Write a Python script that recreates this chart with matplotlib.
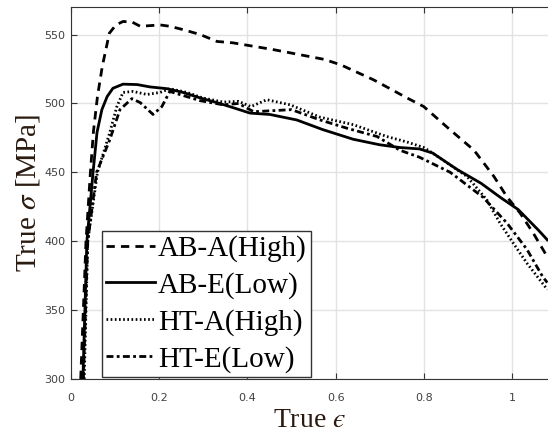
import matplotlib
matplotlib.use("Agg")
import matplotlib.pyplot as plt

plt.rcParams['font.family'] = ['Liberation Serif', 'DejaVu Serif']
plt.rcParams['mathtext.fontset'] = 'stix'

# datos (deformacion verdadera, tension verdadera MPa)
ab_a_x = [0.022, 0.034, 0.044, 0.051, 0.060, 0.071, 0.087, 0.102, 0.118, 0.139,
          0.157, 0.180, 0.202, 0.224, 0.254, 0.293, 0.331, 0.367, 0.46, 0.574,
          0.612, 0.687, 0.762, 0.80, 0.852, 0.914, 0.959, 0.989, 1.018, 1.048, 1.08]
ab_a_y = [300, 400, 450, 480, 505, 527, 551, 557, 559.5, 559,
          556, 556.5, 557, 556, 553.6, 550, 545, 544, 539, 532,
          528, 517, 504, 497.7, 483, 466, 447, 432, 420.6, 406, 388.7]

ab_e_x = [0.027, 0.036, 0.050, 0.059, 0.070, 0.082, 0.095, 0.118, 0.150, 0.179,
          0.218, 0.254, 0.293, 0.331, 0.367, 0.406, 0.451, 0.512, 0.571, 0.64,
          0.70, 0.746, 0.79, 0.82, 0.876, 0.93, 0.975, 1.014, 1.06, 1.08]
ab_e_y = [300, 400, 450, 479, 495.5, 505, 511, 514, 513.7, 512,
          510.7, 508, 504, 500.6, 497, 493, 492, 488, 481, 474,
          470, 468, 467, 464, 452, 442, 431.5, 423, 408, 401]

ht_a_x = [0.030, 0.038, 0.060, 0.088, 0.104, 0.118, 0.141, 0.172, 0.202, 0.224,
          0.263, 0.299, 0.345, 0.38, 0.408, 0.444, 0.497, 0.565, 0.64, 0.716,
          0.762, 0.80, 0.82, 0.898, 0.943, 0.973, 1.002, 1.034, 1.063, 1.08]
ht_a_y = [300, 400, 450, 479, 497.7, 508, 508.7, 506.5, 508, 510.7,
          508, 504, 501, 501.5, 497.7, 502.7, 499, 490, 484.6, 476,
          472, 468, 464, 447, 430, 413, 399, 384, 372, 365]

ht_e_x = [0.028, 0.038, 0.058, 0.088, 0.111, 0.138, 0.157, 0.186, 0.206, 0.224,
          0.293, 0.345, 0.38, 0.414, 0.50, 0.565, 0.626, 0.694, 0.746, 0.79,
          0.86, 0.934, 0.989, 1.034, 1.07, 1.08]
ht_e_y = [300, 400, 450, 473.7, 495.5, 503.5, 500.6, 492, 497.7, 508.7,
          502, 499, 500, 494, 495.5, 488, 482, 476, 466, 461,
          450, 432, 413, 394, 374, 370]

etiquetas = ['AB-A(High)', 'AB-E(Low)', 'HT-A(High)', 'HT-E(Low)']
x_ticks = [0, 0.2, 0.4, 0.6, 0.8, 1]
x_ticklabels = ['0', '0.2', '0.4', '0.6', '0.8', '1']
y_ticks = [300, 350, 400, 450, 500, 550]

fig = plt.figure(figsize=(5.48, 4.4), dpi=100)
ax = fig.add_axes([71 / 548, 1 - 379 / 440, 1 - 71 / 548, 372 / 440])

ax.plot(ab_a_x, ab_a_y, color='black', lw=2, ls=(0, (3, 2.2)), label=etiquetas[0])
ax.plot(ab_e_x, ab_e_y, color='black', lw=2, ls='-', label=etiquetas[1])
ax.plot(ht_a_x, ht_a_y, color='black', lw=2, ls=(0, (0.6, 0.9)), label=etiquetas[2])
ax.plot(ht_e_x, ht_e_y, color='black', lw=2, ls=(0, (2.5, 1.2, 1, 1.2)), label=etiquetas[3])

ax.set_xlim(0, 477 / 441)
ax.set_ylim(300, 570)
ax.set_xticks(x_ticks)
ax.set_xticklabels(x_ticklabels)
ax.set_yticks(y_ticks)
ax.grid(True, color='#e2e2e2', lw=1)
ax.tick_params(axis='x', direction='in', top=True, length=4, pad=10,
               labelsize=8, labelcolor='#404040', color='#333333',
               labelfontfamily='DejaVu Sans')
ax.tick_params(axis='y', direction='in', right=False, length=4, pad=4,
               labelsize=8, labelcolor='#404040', color='#333333',
               labelfontfamily='DejaVu Sans')
ax.spines['right'].set_visible(False)
for s in ['left', 'top', 'bottom']:
    ax.spines[s].set_color('#333333')

ax.set_ylabel('True $\\sigma$ [MPa]', fontsize=21, color='#2a1a10', labelpad=2)
ax.set_xlabel('True $\u03f5$', fontsize=20, color='#2a1a10', labelpad=4)

leg = ax.legend(loc='lower left', bbox_to_anchor=(31 / 477, 2 / 372), borderaxespad=0,
                fontsize=21, handlelength=1.65, handletextpad=0.12, labelspacing=0.34,
                borderpad=0.15, fancybox=False, framealpha=1, edgecolor='#333333')
leg.get_frame().set_linewidth(1)

plt.savefig('out.png', dpi=100)
plt.close()
